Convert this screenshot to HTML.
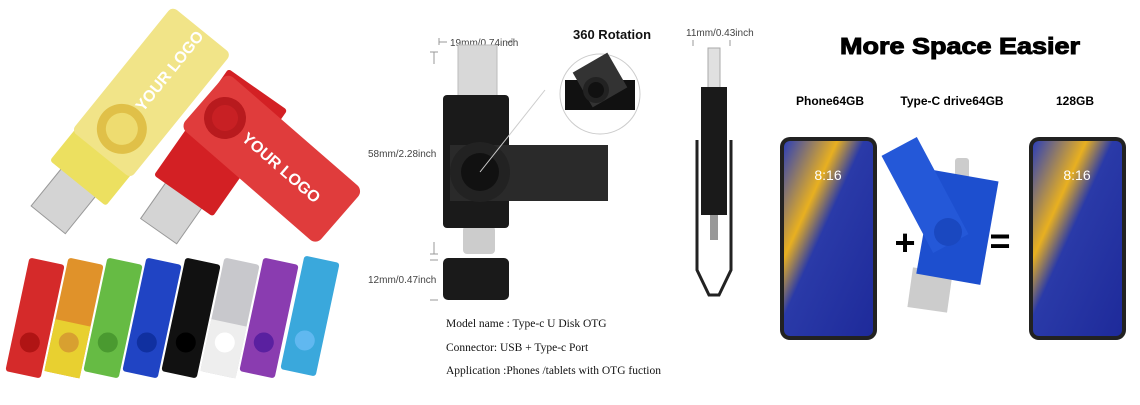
<!DOCTYPE html><html><head><style>body{margin:0;width:1140px;height:400px;background:#fff;overflow:hidden}</style></head><body>
<svg width="1140" height="400" xmlns="http://www.w3.org/2000/svg" font-family="Liberation Sans, sans-serif">
<defs>
<linearGradient id="scr" x1="0" y1="0" x2="1" y2="1"><stop offset="0" stop-color="#2c3fb8"/><stop offset="0.3" stop-color="#e8b020"/><stop offset="0.45" stop-color="#2a3aa8"/><stop offset="1" stop-color="#1e2a9a"/></linearGradient>
</defs>
<!-- yellow drive -->
<g transform="translate(125 125) rotate(39)">
<rect x="-22" y="72" width="44" height="50" fill="#d4d4d4" stroke="#999"/>
<rect x="-36" y="-60" width="72" height="135" rx="3" fill="#ece060"/>
<rect x="-38" y="-122" width="76" height="160" rx="6" fill="#f1e488"/>
<circle cx="0" cy="5" r="25" fill="#e0c048"/><circle cx="0" cy="5" r="16" fill="#eedc70"/>
<text x="0" y="-70" fill="#fff" font-size="16" font-weight="bold" text-anchor="middle" transform="rotate(-90 0 -70)" dy="6">YOUR LOGO</text>
</g>
<!-- red drive -->
<g transform="translate(212 155) rotate(35)">
<rect x="-22" y="45" width="44" height="48" fill="#d4d4d4" stroke="#999"/>
<rect x="-36" y="-80" width="72" height="130" rx="3" fill="#d32024"/>
</g>
<g transform="translate(225 118) rotate(41)">
<rect x="-28" y="-36" width="180" height="72" rx="8" fill="#e03c3c"/>
<circle cx="0" cy="0" r="21" fill="#b81a1e"/><circle cx="0" cy="0" r="13" fill="#c82024"/>
<text x="75" y="6" fill="#fff" font-size="16" font-weight="bold" text-anchor="middle">YOUR LOGO</text>
</g>
<!-- row of small drives -->
<g>
<g transform="translate(35 318) rotate(12)"><rect x="-18" y="-58" width="36" height="116" rx="3" fill="#d52a2a"/><circle cy="25" r="10" fill="#b01414"/></g>
<g transform="translate(74 318) rotate(12)"><rect x="-18" y="-58" width="36" height="116" rx="3" fill="#e0922a"/><rect x="-18" y="5" width="36" height="53" fill="#e8d030"/><circle cy="25" r="10" fill="#d8a030"/></g>
<g transform="translate(113 318) rotate(12)"><rect x="-18" y="-58" width="36" height="116" rx="3" fill="#66bb44"/><circle cy="25" r="10" fill="#4a9a30"/></g>
<g transform="translate(152 318) rotate(12)"><rect x="-18" y="-58" width="36" height="116" rx="3" fill="#2044c4"/><circle cy="25" r="10" fill="#1030a0"/></g>
<g transform="translate(191 318) rotate(12)"><rect x="-18" y="-58" width="36" height="116" rx="3" fill="#111"/><circle cy="25" r="10" fill="#000"/></g>
<g transform="translate(230 318) rotate(12)"><rect x="-18" y="-58" width="36" height="116" rx="3" fill="#c8c8cc"/><rect x="-18" y="5" width="36" height="53" fill="#eee"/><circle cy="25" r="10" fill="#fff"/></g>
<g transform="translate(269 318) rotate(12)"><rect x="-18" y="-58" width="36" height="116" rx="3" fill="#8a3cb0"/><circle cy="25" r="10" fill="#5a20a0"/></g>
<g transform="translate(310 316) rotate(12)"><rect x="-18" y="-58" width="36" height="116" rx="3" fill="#3aa8dc"/><circle cy="25" r="10" fill="#60b8f0"/></g>
</g>
<!-- middle drive -->
<g stroke="#999" stroke-width="1" fill="none"><path d="M439 38v7M439 42h8M512 38v7M512 42h-5M430 52h8M434 52v12M430 254h8M434 254v-12M430 260h8M430 300h8M693 40v6M730 40v6"/></g>
<text x="450" y="46" font-size="10" fill="#444">19mm/0.74inch</text>
<text x="573" y="39" font-size="13" font-weight="bold" fill="#111">360  Rotation</text>
<text x="368" y="157" font-size="10" fill="#444">58mm/2.28inch</text>
<text x="368" y="283" font-size="10" fill="#444">12mm/0.47inch</text>
<text x="686" y="36" font-size="10" fill="#444">11mm/0.43inch</text>
<rect x="458" y="45" width="39" height="52" fill="#d8d8d8" stroke="#bbb"/>
<rect x="463" y="226" width="32" height="28" rx="4" fill="#ccc"/>
<rect x="443" y="95" width="66" height="133" rx="4" fill="#1a1a1a"/>
<rect x="450" y="145" width="158" height="56" fill="#2a2a2a"/>
<circle cx="480" cy="172" r="30" fill="#222"/><circle cx="480" cy="172" r="19" fill="#111"/>
<rect x="443" y="258" width="66" height="42" rx="5" fill="#1a1a1a"/>
<line x1="480" y1="172" x2="545" y2="90" stroke="#ccc"/>
<circle cx="600" cy="94" r="40" fill="#fff" stroke="#ccc"/>
<path d="M565 80h70v30h-70z" fill="#111"/><rect x="580" y="60" width="40" height="40" fill="#333" transform="rotate(-30 600 80)"/><circle cx="596" cy="90" r="13" fill="#222"/><circle cx="596" cy="90" r="8" fill="#111"/>
<!-- side view -->
<rect x="708" y="48" width="12" height="42" fill="#e0e0e0" stroke="#aaa"/>
<rect x="701" y="87" width="26" height="128" fill="#1a1a1a"/>
<path d="M697 140v130l12 25h10l12-25v-130" fill="none" stroke="#222" stroke-width="3"/>
<rect x="710" y="215" width="8" height="25" fill="#999"/>
<text font-family="Liberation Serif, serif" font-size="11.5" fill="#111"><tspan x="446" y="327">Model name : Type-c U Disk OTG</tspan><tspan x="446" y="351">Connector: USB  + Type-c Port</tspan><tspan x="446" y="374">Application :Phones /tablets with OTG fuction</tspan></text>
<!-- right -->
<text x="840" y="54" font-size="23" font-weight="bold" stroke="#000" stroke-width="1" textLength="240" lengthAdjust="spacingAndGlyphs" fill="#000">More Space Easier</text>
<text x="830" y="105" font-size="12" font-weight="bold" text-anchor="middle">Phone64GB</text>
<text x="952" y="105" font-size="12" font-weight="bold" text-anchor="middle">Type-C drive64GB</text>
<text x="1075" y="105" font-size="12" font-weight="bold" text-anchor="middle">128GB</text>
<rect x="780" y="137" width="97" height="203" rx="10" fill="#222"/><rect x="784" y="141" width="89" height="195" rx="6" fill="url(#scr)"/>
<rect x="1029" y="137" width="97" height="203" rx="10" fill="#222"/><rect x="1033" y="141" width="89" height="195" rx="6" fill="url(#scr)"/>
<text x="828" y="180" fill="#fff" font-size="14" text-anchor="middle">8:16</text>
<text x="1077" y="180" fill="#fff" font-size="14" text-anchor="middle">8:16</text>
<rect x="910" y="270" width="40" height="40" fill="#ccc" transform="rotate(8 930 290)"/>
<rect x="955" y="158" width="14" height="30" rx="3" fill="#ccc"/>
<rect x="925" y="175" width="65" height="105" fill="#1d4fcf" transform="rotate(10 957 227)"/>
<rect x="905" y="140" width="40" height="110" fill="#2458d8" transform="rotate(-28 925 195)"/>
<circle cx="948" cy="232" r="14" fill="#1a48c0"/>
<text x="905" y="255" font-size="36" font-weight="bold" text-anchor="middle">+</text>
<text x="1000" y="253" font-size="36" font-weight="bold" text-anchor="middle">=</text>
</svg></body></html>
